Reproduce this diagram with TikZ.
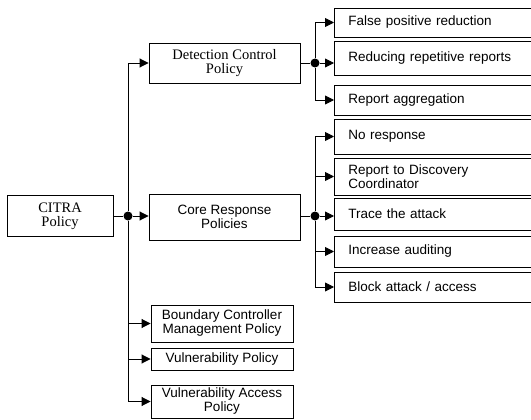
\documentclass[tikz,border=0pt]{standalone}
\usepackage{fontspec}
\setmainfont{Liberation Sans}
\newfontfamily\boxserif{Liberation Serif}
\usetikzlibrary{arrows.meta}

\begin{document}
\begin{tikzpicture}[x=1pt,y=-1pt,>={Triangle[length=9pt,width=9pt]},line width=0.9pt,
    pol/.style={draw,line width=0.9pt,inner sep=0pt,align=center,font=\fontsize{13.5}{14}\selectfont},
    oldpol/.style={pol,font=\boxserif\fontsize{14.5}{14}\selectfont},
    act/.style={draw,line width=0.9pt,anchor=west,inner xsep=14pt,inner ysep=0pt,text width=190pt,align=left,font=\fontsize{13.5}{11}\selectfont},
    dot/.style={circle,fill,inner sep=0pt,minimum size=9pt}]
  \useasboundingbox (0,0) rectangle (531,420);
  \clip (0,0) rectangle (531,420);
  \fill[white] (0,0) rectangle (531,420);

  % policy boxes
  \node (CITRA) at (60,216) [oldpol,minimum width=106pt,minimum height=41pt] {CITRA\\Policy};
  \node (DCP) at (224.5,63) [oldpol,minimum width=151pt,minimum height=40pt] {Detection Control\\Policy};
  \node (CRP) at (224.5,217) [pol,minimum width=151pt,minimum height=46pt] {Core Response\\Policies};
  \node (BCM) at (222,323.5) [pol,minimum width=142pt,minimum height=37pt] {Boundary Controller\\Management Policy};
  \node (VP) at (222,359) [pol,minimum width=142pt,minimum height=22pt] {Vulnerability Policy};
  \node (VAP) at (222,401.5) [pol,minimum width=142pt,minimum height=33pt] {Vulnerability Access\\Policy};

  % detection actions
  \node (FPR) at (334,22.5) [act,minimum height=29pt] {False positive reduction};
  \node (RRR) at (334,58) [act,minimum height=34pt] {Reducing repetitive reports};
  \node (RAG) at (334,100) [act,minimum height=30pt] {Report aggregation};

  % response actions
  \node (NOR) at (334,136.5) [act,minimum height=35pt] {No response};
  \node (RDC) at (334,176.5) [act,minimum height=37pt] {Report to Discovery\\Coordinator};
  \node (TTA) at (334,214) [act,minimum height=32pt] {Trace the attack};
  \node (INA) at (334,251.5) [act,minimum height=31pt] {Increase auditing};
  \node (BLK) at (334,287) [act,minimum height=30pt] {Block attack / access};

  % junctions
  \node (J0) at (128,216) [dot] {};
  \node (J1) at (315,63) [dot] {};
  \node (J2) at (315,216) [dot] {};

  \draw (J0 -| CITRA.east) -- (J0);
  \draw (J1 -| DCP.east) -- (J1);
  \draw (J2 -| CRP.east) -- (J2);

  % fan out from the junctions
  \draw [->] (J0) -- (J0 -| CRP.west);
  \foreach \n in {DCP,BCM,VP,VAP}
    \draw [->] (J0) |- (\n.west);

  \draw [->] (J1) -- (J1 -| RRR.west);
  \foreach \n in {FPR,RAG}
    \draw [->] (J1) |- (\n.west);

  \draw [->] (J2) -- (J2 -| TTA.west);
  \foreach \n in {NOR,RDC,INA,BLK}
    \draw [->] (J2) |- (\n.west);
\end{tikzpicture}
\end{document}
